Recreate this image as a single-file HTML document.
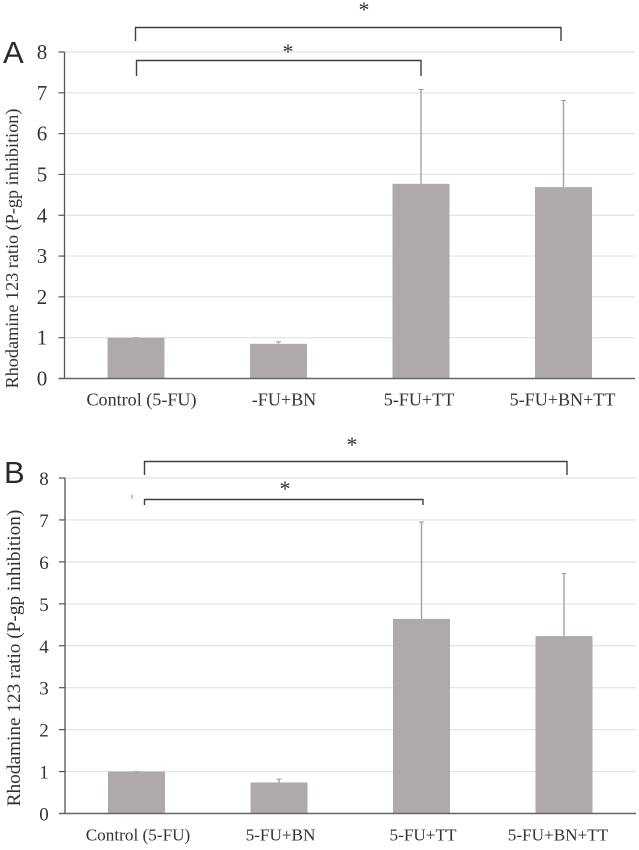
<!DOCTYPE html>
<html>
<head>
<meta charset="utf-8">
<style>
html,body{margin:0;padding:0;background:#fff;width:639px;height:850px;overflow:hidden}
svg{display:block}
text{font-family:"Liberation Serif",serif;fill:#333}
</style>
</head>
<body>
<svg id="fig" width="639" height="850" viewBox="0 0 639 850" xmlns="http://www.w3.org/2000/svg"></svg>
<script>
const ticks = [0, 1, 2, 3, 4, 5, 6, 7, 8];
const catsA = ["Control (5-FU)", "-FU+BN", "5-FU+TT", "5-FU+BN+TT"];
const catsB = ["Control (5-FU)", "5-FU+BN", "5-FU+TT", "5-FU+BN+TT"];
const valuesA = [1.0, 0.85, 4.77, 4.69];
const errorsA = [1.0, 0.9, 7.08, 6.81];
const valuesB = [1.0, 0.74, 4.64, 4.23];
const errorsB = [1.0, 0.82, 6.95, 5.72];

const NS = "http://www.w3.org/2000/svg";
const svg = document.getElementById("fig");
function add(tag, attrs, parent, txt) {
  const e = document.createElementNS(NS, tag);
  for (const k in attrs) e.setAttribute(k, attrs[k]);
  if (txt !== undefined) e.textContent = txt;
  (parent || svg).appendChild(e);
  return e;
}
function panel(cfg, cats, values, errors) {
  const g = add("g", {}, svg);
  
  
  const y = v => cfg.y0 + (cfg.y8 - cfg.y0) * v / 8;
  const x = i => cfg.c0 + cfg.step * i;

  ticks.forEach(t => {
    if (t > 0) {
      const gl = add("line", {x1: cfg.xa, x2: cfg.xe, y1: y(t), y2: y(t), stroke: "#e3e3e3", "stroke-width": 1.2}, g);
      
      
    }
    const tk = add("line", {x1: cfg.xa - 6, x2: cfg.xa, y1: y(t), y2: y(t), stroke: "#555", "stroke-width": 1.2}, g);
    
    
    const lb = add("text", {x: cfg.xa - cfg.tickOffset, y: y(t) + 7, "text-anchor": "middle", "font-size": cfg.tickSize}, g, String(t));
    
    
  });

  cats.forEach((c, i) => {
    const eb = add("line", {x1: x(i), x2: x(i), y1: y(values[i]), y2: y(errors[i]), stroke: "#a3a3a3", "stroke-width": 1.4}, g);
    
    
    const cap = add("line", {x1: x(i) - 2.5, x2: x(i) + 2.5, y1: y(errors[i]), y2: y(errors[i]), stroke: "#999", "stroke-width": 1}, g);
    
    
    const bar = add("rect", {x: x(i) - 28.5, y: y(values[i]), width: 57, height: y(0) - y(values[i]), fill: "#aeaaa9"}, g);
    
    
    const lb = add("text", {x: x(i) + (cfg.labelDx[i]), y: cfg.y0 + 27, "text-anchor": "middle", "font-size": cfg.catSize}, g, c);
    
    
  });

  const ya = add("line", {x1: cfg.xa, x2: cfg.xa, y1: y(8), y2: y(0), stroke: "#555", "stroke-width": 1.3}, g);
  
  
  const xa = add("line", {x1: cfg.xa - 6, x2: cfg.xe, y1: y(0), y2: y(0), stroke: "#666", "stroke-width": 1.5}, g);
  
  

  const yt = add("text", {transform: `translate(${cfg.titleX},${cfg.titleY}) rotate(-90)`, "text-anchor": "middle", "font-size": cfg.titleSize}, g, "Rhodamine 123 ratio (P-gp inhibition)");
  
  

  const pl = add("text", {x: cfg.letterX, y: cfg.letterY, "font-size": 31, style: 'font-family:"Liberation Sans",sans-serif;fill:#2a2a2a'}, g, cfg.id);
  
  

  cfg.brackets.forEach(b => {
    const p = add("path", {d: `M${b.x1} ${b.yl}V${b.y}H${b.x2}V${b.yr}`, fill: "none", stroke: "#404040", "stroke-width": 1.4}, g);
    
    
    const s = add("text", {x: b.sx, y: b.sy, "text-anchor": "middle", "font-size": 22}, g, "*");
    
    
  });
}

panel({
  id: "A", y0: 378.5, y8: 52, xa: 64.5, xe: 635, c0: 136, step: 142.5,
  tickSize: 21, tickOffset: 22.5, catSize: 18.1, titleSize: 18.2, titleX: 18, titleY: 248.5,
  letterX: 3, letterY: 63, labelDx: [5.5, 5.5, -2, -1],
  brackets: [
    {x1: 135.5, x2: 561, y: 27.5, yl: 41, yr: 41, sx: 364, sy: 17},
    {x1: 136.5, x2: 421, y: 60.5, yl: 76, yr: 76, sx: 288, sy: 59}
  ]
}, catsA, valuesA, errorsA);

panel({
  id: "B", y0: 813.5, y8: 478, xa: 65, xe: 636, c0: 136.5, step: 142.5,
  tickSize: 19, tickOffset: 21, catSize: 17.2, titleSize: 19.3, titleX: 20, titleY: 658,
  letterX: 4, letterY: 483, labelDx: [1.5, 1.5, 1.5, -6],
  brackets: [
    {x1: 144.5, x2: 567, y: 461.5, yl: 475, yr: 475, sx: 352, sy: 452},
    {x1: 144.5, x2: 423, y: 499.5, yl: 505, yr: 505, sx: 285, sy: 496}
  ]
}, catsB, valuesB, errorsB);

const speck = add("rect", {x: 131.5, y: 494.5, width: 1.2, height: 4, fill: "#6fb0e6"}, svg);


</script>
</body>
</html>
